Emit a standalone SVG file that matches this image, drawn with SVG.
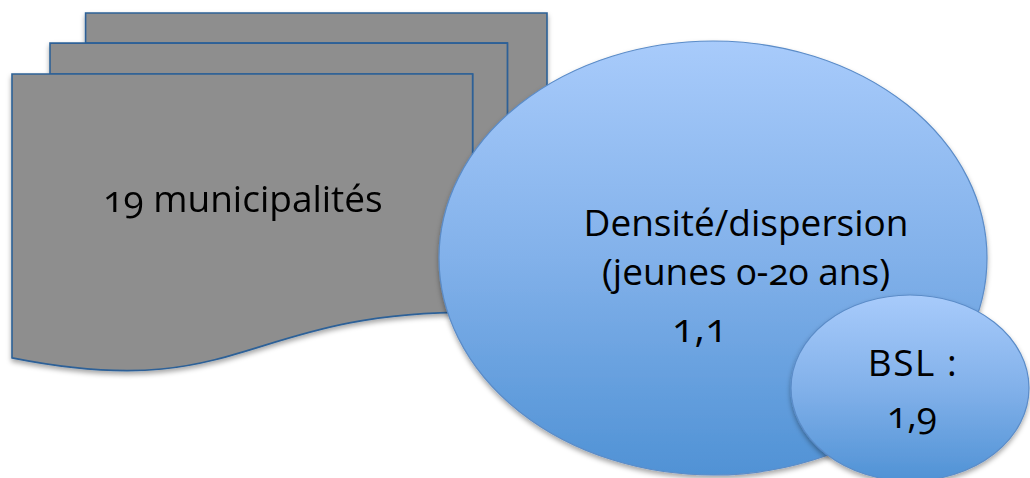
<svg xmlns="http://www.w3.org/2000/svg" width="1030" height="478" viewBox="0 0 1030 478">
  <defs>
    <linearGradient id="blueGrad" x1="0" y1="0" x2="0" y2="1">
      <stop offset="0" stop-color="#a8cbfb"/>
      <stop offset="0.5" stop-color="#82b1ea"/>
      <stop offset="1" stop-color="#5092d5"/>
    </linearGradient>
    <filter id="shadow" x="-10%" y="-10%" width="125%" height="125%">
      <feDropShadow dx="0" dy="3" stdDeviation="2.5" flood-color="#000" flood-opacity="0.35"/>
    </filter>
  </defs>
  <style>
    .doc { fill: #8e8e8e; stroke: #2d6197; stroke-width: 1.6; stroke-linejoin: miter; }
    .bubble { fill: url(#blueGrad); stroke: #5b8cc8; stroke-width: 1.2; }
    .label { font-family: "Open Sans", "Noto Sans", "Liberation Sans", sans-serif; font-size: 37px; fill: #000; text-anchor: middle; font-variant-numeric: oldstyle-nums; }
    .num { font-size: 40px; letter-spacing: 0.5px; }
  </style>
  <rect width="1030" height="478" fill="#ffffff"/>
  <g id="connectors"/>
  <g id="municipalites" filter="url(#shadow)">
    <path class="doc" d="M85.6,43.1 L85.6,13 L547,13 L547,251.9 C527.2,251.9 507.4,253.1 507.4,253.1 L507.4,43.1 Z"/>
    <path class="doc" d="M50,74 L50,43.1 L507.4,43.1 L507.4,282.7 C490,282.7 472.6,284.4 472.6,284.4 L472.6,74 Z"/>
    <path class="doc" d="M12,357.9 C242.3,403.7 242.3,312.1 472.6,312.1 L472.6,74 L12,74 Z"/>
    <text class="label" x="243" y="212">19 municipalités</text>
  </g>
  <g id="densite">
    <ellipse class="bubble" cx="713" cy="258" rx="274" ry="217" filter="url(#shadow)"/>
    <text class="label" x="746" y="236">Densité/dispersion</text>
    <text class="label" x="746" y="285">(jeunes 0-20 ans)</text>
    <text class="label num" x="700" y="342">1,1</text>
  </g>
  <g id="bsl">
    <ellipse class="bubble" cx="910" cy="388" rx="119" ry="93" filter="url(#shadow)"/>
    <text class="label" x="913" y="376" style="letter-spacing:1.5px">BSL :</text>
    <text class="label" x="912" y="428">1,9</text>
  </g>
</svg>
